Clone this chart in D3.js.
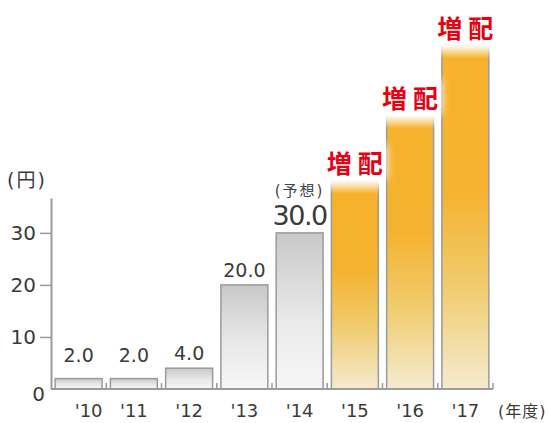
<!DOCTYPE html>
<html>
<head>
<meta charset="utf-8">
<script src="https://cdn.jsdelivr.net/npm/d3@7"></script>
<style>
  body { margin: 0; background: #fff; }
  text { font-family: "DejaVu Sans", "Noto Sans CJK JP", sans-serif; }
</style>
</head>
<body>
<div id="chart"></div>
<script>
// data
const years = ["'10", "'11", "'12", "'13", "'14", "'15", "'16", "'17"];
const dividends = [2.0, 2.0, 4.0, 20.0, 30.0, 40.0, 52.5, 66.0];
const valueLabels = ["2.0", "2.0", "4.0", "20.0", "30.0", "", "", ""];
const barKind = ["actual", "actual", "actual", "actual", "forecast", "increase", "increase", "increase"];
const yTicks = [0, 10, 20, 30];

const width = 549, height = 423;

const svg = d3.select("#chart")
  .append("svg")
    .attr("width", width)
    .attr("height", height);

const defs = svg.append("defs");

// grey bars gradient
const gGrey = defs.append("linearGradient")
    .attr("id", "grey").attr("x1", 0).attr("y1", 0).attr("x2", 0).attr("y2", 1);
gGrey.append("stop").attr("offset", "0%").attr("stop-color", "#c8c8c8");
gGrey.append("stop").attr("offset", "55%").attr("stop-color", "#e9e9e9");
gGrey.append("stop").attr("offset", "100%").attr("stop-color", "#f6f6f6");

// orange gradient, per bar
const gOrange = defs.append("linearGradient")
    .attr("id", "orange").attr("x1", 0).attr("y1", 0).attr("x2", 0).attr("y2", 1);
gOrange.append("stop").attr("offset", "0%").attr("stop-color", "#f6b22c");
gOrange.append("stop").attr("offset", "42%").attr("stop-color", "#f5b22e");
gOrange.append("stop").attr("offset", "70%").attr("stop-color", "#f1cb6e");
gOrange.append("stop").attr("offset", "100%").attr("stop-color", "#f5ebcf");

// white fade on top of the orange bars
const gFade = defs.append("linearGradient")
    .attr("id", "fade").attr("x1", 0).attr("y1", 0).attr("x2", 0).attr("y2", 1);
gFade.append("stop").attr("offset", "0%").attr("stop-color", "#fff").attr("stop-opacity", 1);
gFade.append("stop").attr("offset", "100%").attr("stop-color", "#fff").attr("stop-opacity", 0);

defs.append("filter").attr("id", "blur")
    .attr("x", "-50%").attr("y", "-50%").attr("width", "200%").attr("height", "200%")
  .append("feGaussianBlur").attr("stdDeviation", 4);

//scales
const x = d3.scaleBand()
  .domain(years)
  .range([51, 493])
  .paddingInner(0.15)
  .paddingOuter(0.075);

const y = d3.scaleLinear()
  .domain([0, 36.7])
  .range([389, 198]);

//bars
svg.append("g")
  .selectAll("rect")
  .data(dividends)
  .join("rect")
    .attr("x", (d, i) => x(years[i]))
    .attr("y", d => y(d))
    .attr("width", x.bandwidth())
    .attr("height", d => y(0) - y(d))
    .attr("fill", (d, i) => barKind[i] === "increase" ? "url(#orange)" : "url(#grey)")
    .attr("stroke", "#9b9b9b")
    .attr("stroke-width", 1.5);

// increase labels with white glow
const up = svg.append("g")
  .selectAll("g")
  .data(dividends.map((d, i) => ({ v: d, i: i })).filter(d => barKind[d.i] === "increase"))
  .join("g");

up.append("rect")
    .attr("x", d => x(years[d.i]) - 3)
    .attr("y", d => y(d.v) - 1)
    .attr("width", x.bandwidth() + 6)
    .attr("height", 14)
    .attr("fill", "url(#fade)");

up.append("rect")
    .attr("x", d => x(years[d.i]) - 8)
    .attr("y", d => y(d.v) - 36)
    .attr("width", x.bandwidth() + 16)
    .attr("height", 34)
    .attr("fill", "#fff")
    .attr("filter", "url(#blur)");

up.append("text")
    .attr("x", d => x(years[d.i]) + x.bandwidth() / 2 + 3)
    .attr("y", d => y(d.v) - 8)
    .attr("text-anchor", "middle")
    .attr("font-size", 25)
    .attr("font-weight", "bold")
    .attr("letter-spacing", 6)
    .attr("fill", "#e60012")
    .text("増配");

//value labels
svg.append("g")
  .selectAll("text")
  .data(dividends)
  .join("text")
    .attr("x", (d, i) => x(years[i]) + x.bandwidth() / 2)
    .attr("y", d => y(Math.max(d, 3.7)) - 8)
    .attr("text-anchor", "middle")
    .attr("font-size", (d, i) => barKind[i] === "forecast" ? 27 : 19)
    .attr("letter-spacing", (d, i) => barKind[i] === "forecast" ? -1.5 : 0)
    .attr("fill", "#3a3a3a")
    .text((d, i) => valueLabels[i]);

// forecast note
const fc = barKind.indexOf("forecast");
svg.append("text")
    .attr("x", x(years[fc]) + x.bandwidth() / 2)
    .attr("y", y(dividends[fc]) - 37)
    .attr("text-anchor", "middle")
    .attr("font-size", 15)
    .attr("letter-spacing", 2)
    .attr("fill", "#444")
    .text("(予想)");

//y axis
const yAxis = svg.append("g")
  .attr("transform", "translate(51,0)")
  .call(d3.axisLeft(y).tickValues(yTicks).tickSize(11).tickSizeOuter(0).tickPadding(4));

yAxis.select(".domain").attr("stroke", "#9b9b9b").attr("stroke-width", 2);
yAxis.selectAll(".tick line").attr("stroke", "#9b9b9b").attr("stroke-width", 1.5)
  .filter(d => d === 0).remove();
yAxis.selectAll(".tick text")
  .attr("font-size", 20)
  .attr("fill", "#3a3a3a")
  .attr("font-family", "DejaVu Sans")
  .filter(d => d === 0)
    .attr("x", -6)
    .attr("dy", "0.55em");

svg.append("text")
    .attr("x", 7)
    .attr("y", 187)
    .attr("font-size", 19)
    .attr("letter-spacing", 2)
    .attr("fill", "#3a3a3a")
    .text("(円)");

//x axis baseline + separators
svg.append("line")
    .attr("x1", 51).attr("x2", 493)
    .attr("y1", y(0)).attr("y2", y(0))
    .attr("stroke", "#9b9b9b")
    .attr("stroke-width", 2);

const pad = x.step() * x.paddingInner() / 2;
svg.append("g")
  .selectAll("line")
  .data(years.slice(1).map(d => x(d) - pad).concat([493]))
  .join("line")
    .attr("x1", d => d).attr("x2", d => d)
    .attr("y1", y(0)).attr("y2", y(0) - 6)
    .attr("stroke", "#9b9b9b")
    .attr("stroke-width", 1.5);

svg.append("g")
  .selectAll("text")
  .data(years)
  .join("text")
    .attr("x", (d, i) => x(d) + x.bandwidth() / 2 + (i === 0 ? 10 : 0))
    .attr("y", 417)
    .attr("text-anchor", "middle")
    .attr("font-size", 18)
    .attr("fill", "#3a3a3a")
    .text(d => d);

svg.append("text")
    .attr("x", 498)
    .attr("y", 417)
    .attr("font-size", 16)
    .attr("letter-spacing", 1)
    .attr("fill", "#3a3a3a")
    .text("(年度)");
</script>
</body>
</html>
